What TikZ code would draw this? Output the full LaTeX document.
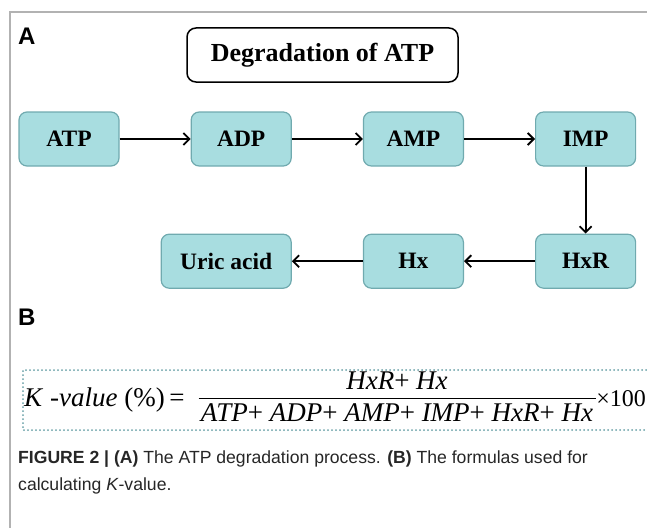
\documentclass[tikz,border=0pt]{standalone}
\usepackage{fontspec}
\setmainfont{Liberation Serif}
\setsansfont{Liberation Sans}
\usetikzlibrary{arrows.meta,positioning}
\definecolor{stagefill}{RGB}{168,221,224}
\definecolor{stageedge}{RGB}{112,170,175}
\definecolor{dotedge}{RGB}{104,160,166}
\definecolor{framegray}{RGB}{178,178,178}

\begin{document}
\begin{tikzpicture}[x=1pt,y=-1pt,node distance=67pt and 71pt,>={Straight Barb[length=6pt,width=12pt]},
stagebox/.style={draw=stageedge,line width=1.2pt,fill=stagefill,rounded corners=8pt,minimum width=100pt,minimum height=54pt,font=\fontsize{23.5}{27}\selectfont\bfseries},
titlebox/.style={draw,line width=1.5pt,rounded corners=9pt,minimum width=271pt,minimum height=54pt,font=\fontsize{26}{30}\selectfont\bfseries},
panellabel/.style={anchor=base west,inner sep=0pt,font=\sffamily\bfseries\fontsize{24}{28}\selectfont},
formula/.style={inner sep=0pt,font=\fontsize{27}{31}\selectfont},
captiontext/.style={anchor=base west,inner sep=0pt,text=black!85,font=\sffamily\fontsize{17.6}{21}\selectfont},
flow/.style={->,line width=1.8pt}]
\useasboundingbox (0,0) rectangle (647,527);
\draw[framegray,line width=2pt] (10,530) -- (10,12) -- (650,12);

% panel A
\node[panellabel] (labela) at (18,45) {A};
\node[titlebox] (title) at (322.5,55) {Degradation of ATP};
\node[stagebox] (atp) at (69,139) {ATP};
\node[stagebox,right=of atp] (adp) {ADP};
\node[stagebox,right=of adp] (amp) {AMP};
\node[stagebox,right=of amp] (imp) {IMP};
\node[stagebox,below=of imp] (hxr) {HxR};
\node[stagebox,left=of hxr] (hx) {Hx};
\node[stagebox,minimum width=130pt,left=of hx] (uric) {Uric acid};
\draw[flow] (atp)--(adp);
\draw[flow] (adp)--(amp);
\draw[flow] (amp)--(imp);
\draw[flow] (imp)--(hxr);
\draw[flow] (hxr)--(hx);
\draw[flow] (hx)--(uric);

% panel B
\node[panellabel] (labelb) at (18,325) {B};
\draw[dotedge,line width=2pt,line cap=round,dash pattern=on 0pt off 4pt] (650,370) -- (23,370) -- (23,430) -- (650,430);
\node[formula,anchor=base] (den) at (397,421) {\textit{ATP}+ \textit{ADP}+ \textit{AMP}+ \textit{IMP}+ \textit{HxR}+ \textit{Hx}};
\node[formula,anchor=base] (num) at (397,389) {\textit{HxR}+ \textit{Hx}};
\draw[line width=1pt] ([xshift=-2pt,yshift=4pt]den.north west) -- ([xshift=3pt,yshift=4pt]den.north east);
\node[formula,anchor=base west] (klabel) at (24,406) {\textit{K} -\textit{value} (\%)\,=};
\node[formula,anchor=base east,font=\fontsize{24}{28}\selectfont] (times) at (646,406) {×100};

% caption
\node[captiontext] (cap1) at (18,463) {\textbf{FIGURE 2 | (A)} The ATP degradation process. \textbf{(B)} The formulas used for};
\node[captiontext] (cap2) at (18,490) {calculating \textit{K}-value.};
\end{tikzpicture}
\end{document}
